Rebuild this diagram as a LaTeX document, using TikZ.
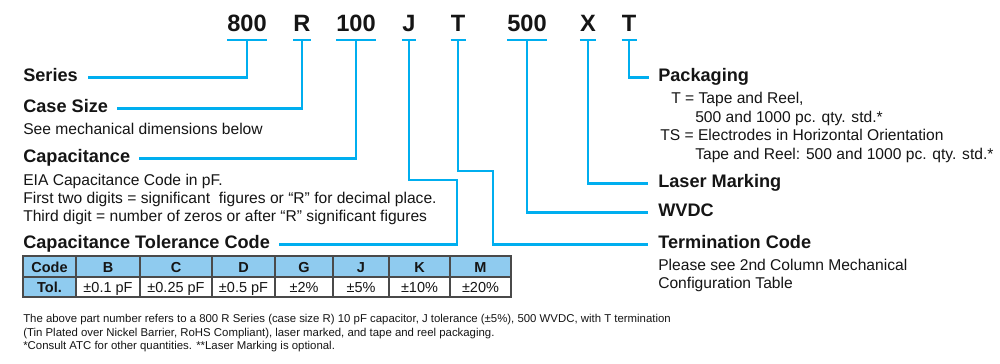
\documentclass[tikz,border=0pt]{standalone}
\usepackage{fontspec}
\setmainfont{Liberation Sans}
\usepackage{tikz}
\usetikzlibrary{calc}
\definecolor{ATCcyan}{HTML}{00AEEF}
\definecolor{ATCink}{HTML}{151515}
\definecolor{ATCtable}{HTML}{8FCBEF}
\definecolor{ATCgrid}{HTML}{4A4A4A}
\tikzset{
  partcode/.style={font=\fontsize{16.8}{18}\selectfont\bfseries, text=ATCink, inner sep=0pt, anchor=base},
  headlbl/.style={font=\fontsize{12.9}{14}\selectfont\bfseries, text=ATCink, inner sep=0pt, anchor=base west},
  desclbl/.style={font=\fontsize{11.1}{13}\selectfont, text=ATCink, inner sep=0pt, anchor=base west},
  notelbl/.style={font=\fontsize{8.1}{10}\selectfont, text=ATCink, inner sep=0pt, anchor=base west},
  leadline/.style={draw=ATCcyan, line width=2.1pt},
  cellbox/.style={draw=ATCgrid, line width=1pt},
  celltxt/.style={font=\fontsize{10.3}{12}\selectfont, text=ATCink, inner sep=0pt, anchor=base}
}
\begin{document}
\begin{tikzpicture}[x=0.025cm, y=-0.025cm]
\fill[white] (0,0) rectangle (1000,363);
\useasboundingbox (0,0) rectangle (1000,363);

% part number
\node[partcode] (c1) at (247,31) {800};
\node[partcode] (c2) at (302,31) {R};
\node[partcode] (c3) at (356,31) {100};
\node[partcode] (c4) at (409,31) {J};
\node[partcode] (c5) at (458,31) {T};
\node[partcode] (c6) at (527,31) {500};
\node[partcode] (c7) at (588,31) {X};
\node[partcode] (c8) at (629,31) {T};
\foreach \i in {1,...,8}
  \draw[leadline] ($(c\i.base west)+(0,9)$) -- ($(c\i.base east)+(0,9)$);

% left side
\node[headlbl] (series) at (23,81) {Series};
\node[headlbl] (casesize) at (23,112) {Case Size};
\node[desclbl] (casedesc) at (23,134) {See mechanical dimensions below};
\node[headlbl] (capac) at (23,162) {Capacitance};
\foreach \txt [count=\i] in {{EIA Capacitance Code in pF.},
    {First two digits = significant \ figures or “R” for decimal place.},
    {Third digit = number of zeros or after “R” significant figures}}
  \node[desclbl] (capdesc\i) at (23,{185+18*(\i-1)}) {\txt};
\node[headlbl] (tolcode) at (23,248) {Capacitance Tolerance Code};

% right side
\node[headlbl] (packing) at (658,81) {Packaging};
\node[desclbl] (pack1) at (671,103) {T = Tape and Reel,};
\node[desclbl] (pack2) at (695,122) {500 and 1000 pc. qty. std.*};
\node[desclbl] (pack3) at (660,140) {TS = Electrodes in Horizontal Orientation};
\node[desclbl] (pack4) at (695,159) {Tape and Reel: 500 and 1000 pc. qty. std.*};
\node[headlbl] (laser) at (658,187) {Laser Marking};
\node[headlbl] (wvdc) at (658,216) {WVDC};
\node[headlbl] (termcode) at (658,248) {Termination Code};
\node[desclbl] (term1) at (658,270) {Please see 2nd Column Mechanical};
\node[desclbl] (term2) at (658,288) {Configuration Table};

% leaders
\coordinate (jbend) at (457,180);
\coordinate (tbend) at (493,171);
\draw[leadline] ($(c1.base)+(0,9)$) |- ($(series.mid east)+(10,0)$);
\draw[leadline] ($(c2.base)+(0,9)$) |- ($(casesize.mid east)+(9,0)$);
\draw[leadline] ($(c3.base)+(0,9)$) |- ($(capac.mid east)+(9,0)$);
\draw[leadline] ($(c4.base)+(0,9)$) |- (jbend) |- ($(tolcode.mid east)+(9,0)$);
\draw[leadline] ($(c5.base)+(0,9)$) |- (tbend) |- ($(termcode.mid west)+(-10,0)$);
\draw[leadline] ($(c6.base)+(0,9)$) |- ($(wvdc.mid west)+(-10,0)$);
\draw[leadline] ($(c7.base)+(0,9)$) |- ($(laser.mid west)+(-10,0)$);
\draw[leadline] ($(c8.base)+(0,9)$) |- ($(packing.mid west)+(-9,0)$);

% tolerance table
\draw[cellbox, fill=ATCtable] (23,256) rectangle (76,277);
\draw[cellbox, fill=ATCtable] (23,277) rectangle (76,297);
\node[celltxt, font=\fontsize{10.3}{12}\selectfont\bfseries] (tblcode) at (49.5,272) {Code};
\node[celltxt, font=\fontsize{10.3}{12}\selectfont\bfseries] (tbltol) at (49.5,292) {Tol.};
\foreach \hd/\tl/\xl/\xr [count=\i] in {B/±0.1 pF/76/140, C/±0.25 pF/140/212,
    D/±0.5 pF/212/275, G/±2\%/275/333, J/±5\%/333/389, K/±10\%/389/450, M/±20\%/450/511} {
  \draw[cellbox, fill=ATCtable] (\xl,256) rectangle (\xr,277);
  \draw[cellbox, fill=white] (\xl,277) rectangle (\xr,297);
  \node[celltxt, font=\fontsize{10.3}{12}\selectfont\bfseries] (hd\i) at ({(\xl+\xr)/2},272) {\hd};
  \node[celltxt] (tl\i) at ({(\xl+\xr)/2},292) {\tl};
}

% notes
\node[notelbl] (note1) at (23,322) {The above part number refers to a 800 R Series (case size R) 10 pF capacitor, J tolerance (±5\%), 500 WVDC, with T termination};
\node[notelbl] (note2) at (23,336) {(Tin Plated over Nickel Barrier, RoHS Compliant), laser marked, and tape and reel packaging.};
\node[notelbl] (note3) at (23,349) {*Consult ATC for other quantities. **Laser Marking is optional.};
\end{tikzpicture}
\end{document}
